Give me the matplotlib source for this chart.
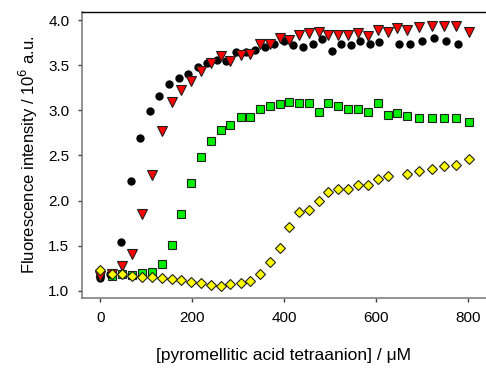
import matplotlib
matplotlib.use("Agg")
import matplotlib.pyplot as plt

plt.rcParams['font.family'] = ['Liberation Sans', 'DejaVu Sans']

# black circles
x_black = [0, 21, 45, 66, 86, 107, 128, 150, 170, 191, 212, 232, 253, 274, 295, 316, 337, 358,
           378, 399, 420, 441, 462, 483, 503, 524, 545, 565, 586, 607, 650, 674, 700, 726, 753, 778]
y_black = [1.14, 1.19, 1.54, 2.22, 2.69, 2.99, 3.16, 3.29, 3.36, 3.40, 3.48, 3.53, 3.56, 3.55,
           3.65, 3.65, 3.67, 3.70, 3.73, 3.77, 3.72, 3.70, 3.73, 3.79, 3.66, 3.74, 3.72, 3.77,
           3.73, 3.76, 3.74, 3.74, 3.77, 3.80, 3.77, 3.73]

# red triangles
x_red = [0, 26, 48, 69, 91, 113, 134, 155, 176, 198, 219, 240, 262, 283, 305, 326, 347, 369,
         390, 411, 432, 454, 475, 496, 517, 539, 561, 582, 604, 625, 646, 668, 694, 721, 748, 774, 801]
y_red = [1.16, 1.19, 1.27, 1.41, 1.85, 2.28, 2.77, 3.09, 3.23, 3.33, 3.44, 3.52, 3.60, 3.55,
         3.61, 3.63, 3.73, 3.74, 3.80, 3.78, 3.84, 3.86, 3.87, 3.84, 3.84, 3.84, 3.86, 3.82,
         3.89, 3.87, 3.91, 3.89, 3.92, 3.94, 3.93, 3.94, 3.87]

# green squares
x_green = [0, 26, 48, 69, 91, 113, 134, 155, 176, 198, 219, 240, 262, 283, 305, 326, 347, 369,
           390, 411, 432, 454, 475, 496, 517, 539, 561, 582, 604, 625, 646, 668, 694, 721, 748, 774, 801]
y_green = [1.20, 1.17, 1.19, 1.18, 1.20, 1.21, 1.30, 1.51, 1.85, 2.19, 2.48, 2.66, 2.78, 2.84,
           2.93, 2.93, 3.01, 3.05, 3.07, 3.09, 3.08, 3.08, 2.98, 3.08, 3.05, 3.02, 3.02, 2.98,
           3.08, 2.95, 2.97, 2.94, 2.91, 2.91, 2.91, 2.91, 2.87]

# yellow diamonds
x_yellow = [0, 26, 48, 69, 91, 113, 134, 155, 176, 198, 219, 240, 262, 283, 305, 326, 347, 369,
            390, 411, 432, 454, 475, 496, 517, 539, 561, 582, 604, 625, 668, 694, 721, 748, 774, 801]
y_yellow = [1.23, 1.19, 1.19, 1.17, 1.155, 1.15, 1.144, 1.13, 1.12, 1.10, 1.09, 1.066, 1.055,
            1.077, 1.085, 1.114, 1.185, 1.32, 1.48, 1.71, 1.87, 1.90, 2.00, 2.09, 2.125, 2.133,
            2.174, 2.178, 2.237, 2.27, 2.296, 2.326, 2.355, 2.385, 2.39, 2.46]

x_ticks = [0, 200, 400, 600, 800]
y_ticks = [1.0, 1.5, 2.0, 2.5, 3.0, 3.5, 4.0]

fig = plt.figure(figsize=(4.86, 3.68), dpi=100)
ax = fig.add_axes([0.1687, 0.19, 0.8313, 0.7774])

ax.plot(x_black, y_black, 'o', color='black', markersize=6, markeredgewidth=0, zorder=3)
ax.plot(x_red, y_red, 'v', color='#ff0000', markersize=6.5, markeredgecolor='#202020',
        markeredgewidth=0.8, zorder=4)
ax.plot(x_green, y_green, 's', color='#00ee00', markersize=6, markeredgecolor='#202020',
        markeredgewidth=0.8, zorder=2)
ax.plot(x_yellow, y_yellow, 'D', color='#ffff00', markersize=5, markeredgecolor='#202020',
        markeredgewidth=0.8, zorder=5)

ax.set_xlim(-40, 839)
ax.set_ylim(0.92, 4.09)
ax.set_xticks(x_ticks)
ax.set_xticklabels([str(v) for v in x_ticks])
ax.set_yticks(y_ticks)
ax.set_yticklabels([f"{v:.1f}" for v in y_ticks])

ax.spines['right'].set_visible(False)
ax.spines['top'].set_color('black')
ax.spines['top'].set_linewidth(1.0)
ax.spines['left'].set_color('#808080')
ax.spines['bottom'].set_color('#808080')
ax.spines['left'].set_linewidth(1.2)
ax.spines['bottom'].set_linewidth(1.2)

ax.tick_params(axis='both', direction='out', length=3, width=1, color='#404040',
               labelsize=11, pad=6)

ax.set_xlabel('[pyromellitic acid tetraanion] / \u03bcM', fontsize=12.5, labelpad=17)
ax.set_ylabel('Fluorescence intensity / 10$^{6}$ a.u.', fontsize=12, labelpad=6)

fig.savefig('out.png', dpi=100)
